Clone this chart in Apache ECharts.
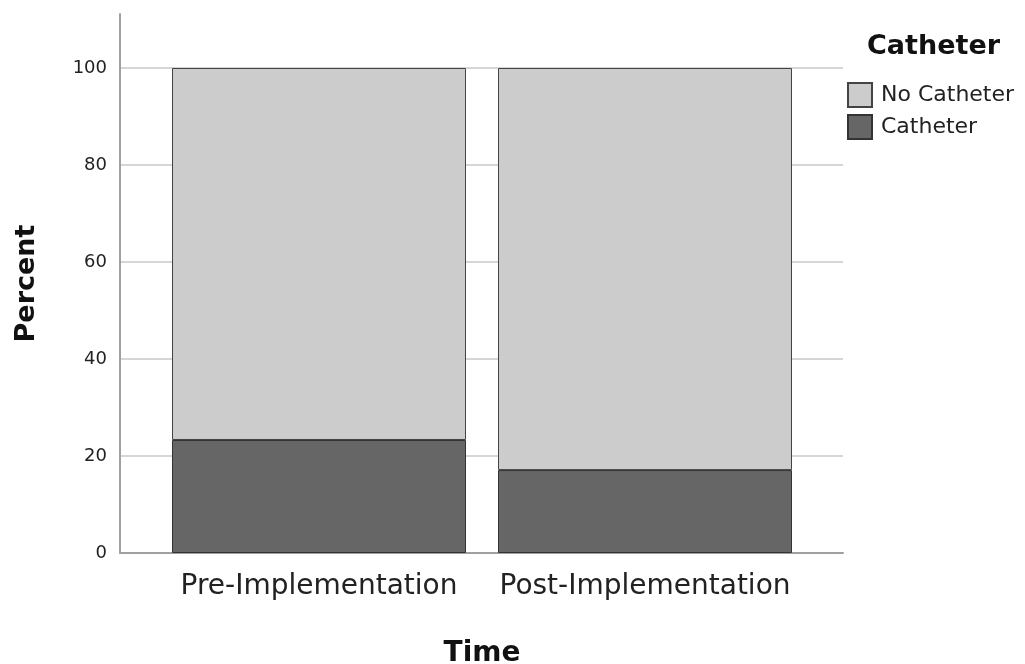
<!DOCTYPE html>
<html><head><meta charset="utf-8">
<script src="https://cdn.jsdelivr.net/npm/echarts@6/dist/echarts.min.js"></script>
<style>html,body{margin:0;padding:0;background:#fff}#c{width:1025px;height:664px}</style>
</head><body><div id="c"></div>
<script>
var categories = ['Pre-Implementation', 'Post-Implementation'];
var catheter = [23.3, 17.1];
var noCatheter = [76.7, 82.9];
var yTicks = [0, 20, 40, 60, 80, 100];

var chart = echarts.init(document.getElementById('c'));
var font = '"DejaVu Sans", sans-serif';
chart.setOption({
  animation: false,
  title: {text: 'Catheter', left: 867, top: 33, padding: 0,
    textStyle: {fontFamily: font, fontSize: 27, fontWeight: 'bold', color: '#111'}},
  legend: {
    data: ['No Catheter', 'Catheter'], orient: 'vertical', left: 847, top: 82, padding: 0,
    icon: 'rect', itemWidth: 24, itemHeight: 24, itemGap: 6,
    textStyle: {fontFamily: font, fontSize: 22, color: '#222', padding: [0, 0, 0, 4]}
  },
  grid: [
    {left: 120, right: 182, top: 14, bottom: 111, outerBoundsMode: 'none'},
    {left: 120, right: 182, top: 68, bottom: 111, outerBoundsMode: 'none'},
    {left: 156, right: 217, top: 68, bottom: 111, outerBoundsMode: 'none'}
  ],
  xAxis: [
    {type: 'category', gridIndex: 0, data: categories,
     axisLine: {show: true, lineStyle: {color: '#a0a0a0', width: 2}}, axisTick: {show: false}, axisLabel: {show: false}, splitLine: {show: false}},
    {type: 'category', gridIndex: 1, data: categories, show: false},
    {type: 'category', gridIndex: 2, data: categories, axisLine: {show: false}, axisTick: {show: false},
     axisLabel: {fontFamily: font, fontSize: 28, color: '#222', margin: 20, interval: 0, hideOverlap: false},
     name: 'Time', nameLocation: 'middle', nameGap: 87,
     nameTextStyle: {fontFamily: font, fontSize: 28, fontWeight: 'bold', color: '#111'}}
  ],
  yAxis: [
    {type: 'value', gridIndex: 0, min: 0, max: 111,
     axisLine: {show: true, lineStyle: {color: '#a0a0a0', width: 2}}, axisTick: {show: false},
     axisLabel: {show: false}, splitLine: {show: false},
     name: 'Percent', nameLocation: 'middle', nameGap: 80, nameRotate: 90,
     nameTextStyle: {fontFamily: font, fontSize: 27, fontWeight: 'bold', color: '#111'}},
    {type: 'value', gridIndex: 1, min: 0, max: 100, interval: 20,
     axisLine: {show: false}, axisTick: {show: false},
     axisLabel: {fontFamily: font, fontSize: 18, color: '#222', margin: 13,
       formatter: function (v) { return yTicks.indexOf(v) >= 0 ? String(v) : ''; }},
     splitLine: {show: true, lineStyle: {color: '#c8c8c8', width: 1.5}}},
    {type: 'value', gridIndex: 2, min: 0, max: 100, interval: 20, show: false}
  ],
  series: [
    {name: 'Catheter', type: 'bar', stack: 's', xAxisIndex: 2, yAxisIndex: 2, data: catheter, barWidth: 294,
     itemStyle: {color: '#666666', borderColor: '#333333', borderWidth: 1}},
    {name: 'No Catheter', type: 'bar', stack: 's', xAxisIndex: 2, yAxisIndex: 2, data: noCatheter, barWidth: 294,
     itemStyle: {color: '#cccccc', borderColor: '#444444', borderWidth: 1}}
  ]
});
</script></body></html>
